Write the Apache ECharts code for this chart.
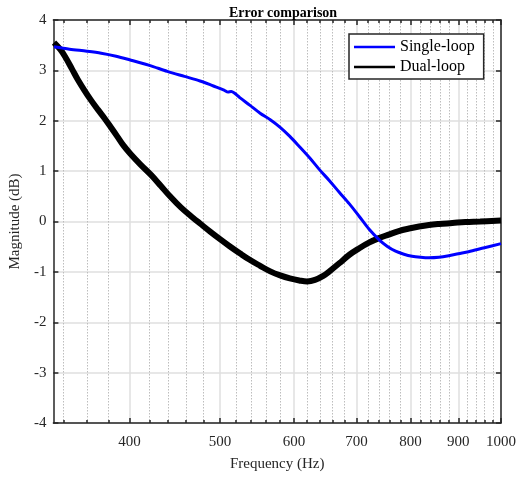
<!DOCTYPE html>
<html>
<head>
<meta charset="UTF-8">
<title>Error comparison</title>
<script src="https://cdn.jsdelivr.net/npm/echarts@6/dist/echarts.min.js"></script>
<style type="text/css">
    html,body{margin:0;padding:0;background:#fff;}
    #chart{width:519px;height:477px;}
</style>
</head>
<body>
<div id="chart"></div>
<script>
// data (Hz, dB)
var singleFreq = [332, 345, 360, 373, 387, 400, 420, 439, 458, 476, 492, 505, 510, 514, 518, 525, 538, 552, 566, 580, 594, 608, 624, 639, 655, 671, 688, 705, 722, 740, 755, 771, 787, 803, 820, 837, 858, 879, 900, 923, 960, 1000];
var singleMag  = [3.47, 3.42, 3.38, 3.34, 3.28, 3.21, 3.10, 2.98, 2.88, 2.79, 2.69, 2.61, 2.57, 2.58, 2.55, 2.46, 2.31, 2.15, 2.02, 1.87, 1.69, 1.49, 1.26, 1.03, 0.81, 0.58, 0.35, 0.10, -0.15, -0.36, -0.49, -0.59, -0.65, -0.69, -0.71, -0.72, -0.71, -0.68, -0.64, -0.60, -0.52, -0.44];

var dualFreq = [332, 337, 341, 347, 352, 358, 364, 370, 376, 382, 388, 394, 401, 411, 422, 432, 442, 454, 468, 476, 488, 500, 512, 525, 538, 552, 566, 580, 594, 608, 620, 632, 645, 655, 671, 688, 705, 722, 740, 758, 777, 797, 817, 837, 858, 887, 916, 950, 1000];
var dualMag  = [3.55, 3.42, 3.28, 3.03, 2.82, 2.60, 2.40, 2.22, 2.05, 1.87, 1.69, 1.51, 1.34, 1.13, 0.92, 0.71, 0.50, 0.28, 0.07, -0.04, -0.20, -0.35, -0.49, -0.63, -0.76, -0.88, -0.99, -1.07, -1.13, -1.17, -1.19, -1.16, -1.08, -0.99, -0.83, -0.66, -0.53, -0.42, -0.33, -0.26, -0.19, -0.14, -0.10, -0.07, -0.05, -0.03, -0.01, 0.00, 0.02];

var freqTicks  = [400, 500, 600, 700, 800, 900, 1000];
var freqMinor  = [340, 360, 380, 420, 440, 460, 480, 520, 540, 560, 580, 620, 640, 660, 680, 720, 740, 760, 780, 820, 840, 860, 880, 920, 940, 960, 980];
var magTicks   = [-4, -3, -2, -1, 0, 1, 2, 3, 4];
var freqMin = 331.5, freqMax = 1000;

var FONT = 'Liberation Serif';
var AXIS_COLOR = '#262626';

function lg(v){ return Math.log10(v); }
function pairs(fs, ms){ return fs.map(function(f, i){ return [lg(f), ms[i]]; }); }

// one x axis per tick set (major / minor, bottom / top), all on the log10 scale
function xAx(pos, vals, len, major){
    return {
        type: 'value', position: pos,
        min: lg(freqMin), max: lg(freqMax),
        axisLine: { show: major, onZero: false, lineStyle: { color: AXIS_COLOR, width: 1.5 } },
        axisTick: { show: true, inside: true, length: len, customValues: vals.map(lg),
                    lineStyle: { color: AXIS_COLOR, width: 1.5 } },
        axisLabel: { show: major && pos === 'bottom', customValues: vals.map(lg), margin: 12,
                     fontFamily: FONT, fontSize: 15, color: AXIS_COLOR,
                     formatter: function(v){ return Math.round(Math.pow(10, v)); } },
        splitLine: { show: pos === 'bottom',
                     lineStyle: major ? { color: '#dfdfdf', width: 1.5 }
                                      : { color: '#bdbdbd', width: 1, type: [1.5, 1.5] } },
        name: (major && pos === 'bottom') ? 'Frequency (Hz)' : '',
        nameLocation: 'middle', nameGap: 34,
        nameTextStyle: { fontFamily: FONT, fontSize: 15, color: AXIS_COLOR }
    };
}

var chart = echarts.init(document.getElementById('chart'));
var option = {
    animation: false,
    title: {
        text: 'Error comparison', left: 278, top: 1, textAlign: 'center',
        textStyle: { fontFamily: FONT, fontSize: 14, fontWeight: 'bold', color: '#000' }
    },
    grid: { left: 53, right: 16, top: 20, bottom: 54 },
    legend: {
        orient: 'vertical', left: 349, top: 34,
        padding: [5, 9, 4, 5], itemGap: 4,
        itemWidth: 41, itemHeight: 2.5, icon: 'rect',
        backgroundColor: '#fff', borderColor: AXIS_COLOR, borderWidth: 1.5, borderRadius: 0,
        textStyle: { fontFamily: FONT, fontSize: 16, color: '#000' },
        data: ['Single-loop', 'Dual-loop']
    },
    xAxis: [
        xAx('bottom', freqTicks, 5, true),
        xAx('bottom', freqMinor, 3, false),
        xAx('top', freqTicks, 5, true),
        xAx('top', freqMinor, 3, false)
    ],
    yAxis: [
        {
            type: 'value', min: -4, max: 4, interval: 1, position: 'left',
            axisLine: { show: true, lineStyle: { color: AXIS_COLOR, width: 1.5 } },
            axisTick: { show: true, inside: true, length: 5, lineStyle: { color: AXIS_COLOR, width: 1.5 } },
            axisLabel: { fontFamily: FONT, fontSize: 15, color: AXIS_COLOR, margin: 7 },
            splitLine: { show: true, lineStyle: { color: '#dfdfdf', width: 1.5 } },
            name: 'Magnitude (dB)', nameLocation: 'middle', nameGap: 29,
            nameTextStyle: { fontFamily: FONT, fontSize: 15, color: AXIS_COLOR }
        },
        {
            type: 'value', min: -4, max: 4, interval: 1, position: 'right',
            axisLine: { show: true, lineStyle: { color: AXIS_COLOR, width: 1.5 } },
            axisTick: { show: true, inside: true, length: 5, lineStyle: { color: AXIS_COLOR, width: 1.5 } },
            axisLabel: { show: false },
            splitLine: { show: false }
        }
    ],
    series: [
        {
            name: 'Dual-loop', type: 'line', xAxisIndex: 0, yAxisIndex: 0,
            data: pairs(dualFreq, dualMag), symbol: 'none', smooth: 0.4,
            itemStyle: { color: '#000' },
            lineStyle: { color: '#000', width: 6 }, z: 3
        },
        {
            name: 'Single-loop', type: 'line', xAxisIndex: 0, yAxisIndex: 0,
            data: pairs(singleFreq, singleMag), symbol: 'none', smooth: 0.3,
            itemStyle: { color: '#0000ff' },
            lineStyle: { color: '#0000ff', width: 3 }, z: 4
        }
    ]
};
option && chart.setOption(option);
</script>
</body>
</html>
